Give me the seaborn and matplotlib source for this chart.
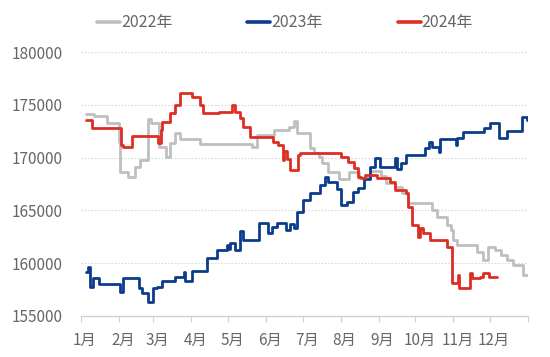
import matplotlib
matplotlib.use("Agg")
import matplotlib.pyplot as plt
import matplotlib.transforms as mtransforms
from matplotlib.lines import Line2D
import seaborn as sns
import pandas as pd

# ---- data (day of year, Jan 1 = 0) ----
days_2022 = [4, 11, 21, 31, 32, 38, 44, 48, 55, 57, 64, 69, 73, 77, 81, 97, 140, 144, 158, 170, 174, 176,
             187, 190, 194, 197, 202, 211, 219, 227, 236, 245, 249, 256, 262, 267, 287, 291, 299, 302, 304,
             307, 323, 328, 332, 338, 343, 348, 353, 361, 365]
vals_2022 = [174100, 173950, 173260, 171500, 168670, 168200, 169150, 169780, 173640, 173260, 171000, 170100,
             171370, 172370, 171750, 171300, 171040, 172150, 172630, 172940, 173510, 172340,
             170890, 170440, 170090, 169500, 168600, 168000, 168600, 168100, 168700, 168300, 167600, 167200,
             166600, 165700, 165040, 164400, 163610, 163140, 162190,
             161720, 161000, 160300, 161550, 161240, 160770, 160300, 159820, 158860, 158860]

days_2023 = [4, 6, 7, 10, 15, 32, 34, 47, 50, 55, 59, 62, 66, 77, 84, 85, 91, 103, 111, 119, 121, 122, 126,
             130, 132, 145, 153, 156, 160, 167, 171, 174, 176, 181, 187, 195, 199, 202, 209, 212, 217, 222,
             226, 231, 236, 240, 244, 256, 258, 261, 265, 281, 284, 287, 292, 293, 306, 307, 312, 329, 334,
             341, 348, 360, 364]
vals_2023 = [159180, 159600, 157760, 158560, 158010, 157290, 158560, 157610, 157130, 156340, 157610, 157760,
             158300, 158710, 159180, 158300, 159280, 160450, 161240, 161720, 161300, 161880, 161240,
             163070, 162190, 163830, 162850, 163450, 163770, 163140, 163700, 163300, 164880, 165990, 166620,
             167410, 168200, 167720, 167000, 165510, 165820, 166770,
             167100, 168000, 169150, 170000, 169090, 170000, 168900, 169470, 170260, 170890, 171520, 171040,
             170570, 171770, 171200, 171840, 172470, 172850, 173260,
             171840, 172560, 173830, 173580]

days_2024 = [4, 9, 33, 34, 42, 63, 65, 66, 73, 77, 81, 91, 97, 100, 113, 123, 126, 130, 132, 138, 157, 161,
             165, 166, 168, 171, 177, 179, 212, 218, 223, 226, 229, 232, 242, 252, 256, 265, 267, 270, 275,
             277, 279, 285, 299, 303, 308, 309, 318, 319, 326, 328, 333, 340]
vals_2024 = [173570, 172790, 171200, 171040, 172060, 171370, 172630, 173420, 174210, 175000, 176150, 175790,
             175000, 174210, 174300, 175000, 174370, 173740, 172940, 171930, 171520, 171200,
             169790, 170600, 169900, 168830, 170260, 170470, 170100, 169620, 169000, 168200, 168070, 168360,
             168040, 167720, 166930, 166600, 165350, 163610, 162500,
             163330, 162850, 162190, 161550, 158100, 158860, 157610, 159050, 158580, 158700, 159030, 158710,
             158710]

series_names = ["2022年", "2023年", "2024年"]
month_starts = [0, 31, 59, 90, 120, 151, 181, 212, 243, 273, 304, 334, 365]
month_labels = ["1月", "2月", "3月", "4月", "5月", "6月", "7月", "8月", "9月", "10月", "11月", "12月"]
y_ticks = [155000, 160000, 165000, 170000, 175000, 180000]

colors = {"2022年": "#BFBFBF", "2023年": "#0B3C8C", "2024年": "#DD2E23"}

frames = []
for name, d, v in zip(series_names, [days_2022, days_2023, days_2024], [vals_2022, vals_2023, vals_2024]):
    frames.append(pd.DataFrame({"day": d, "price": v, "year": name}))
df = pd.concat(frames, ignore_index=True)

sns.set_theme(style="white")
plt.rcParams["font.family"] = ["Noto Sans CJK SC", "DejaVu Sans"]

fig = plt.figure(figsize=(5.5, 3.57), dpi=100)
ax = fig.add_axes([81 / 550, 1 - 315.7 / 357, (528 - 81) / 550, (315.7 - 52.3) / 357])

sns.lineplot(data=df, x="day", y="price", hue="year", palette=colors, hue_order=series_names,
             drawstyle="steps-post", estimator=None, linewidth=2.0, legend=False, ax=ax)

ax.set_xlim(0, 365)
ax.set_ylim(155000, 180000)
ax.set_xlabel("")
ax.set_ylabel("")

txt_color = "#666666"
ax.set_yticks(y_ticks)
ax.set_yticklabels([str(t) for t in y_ticks])
ax.set_xticks(month_starts)
ax.set_xticklabels(month_labels + [""])
ax.tick_params(axis="y", length=0, pad=13, labelsize=11, labelcolor=txt_color)
ax.tick_params(axis="x", length=4, width=0.8, color="#D0D0D0", direction="out", pad=8,
               labelsize=11, labelcolor=txt_color, bottom=True)
offset = mtransforms.ScaledTranslation(4 / 100, 0, fig.dpi_scale_trans)
for lab in ax.get_xticklabels():
    lab.set_transform(lab.get_transform() + offset)

for s in ["left", "right", "top"]:
    ax.spines[s].set_visible(False)
ax.spines["bottom"].set_color("#D0D0D0")
ax.spines["bottom"].set_linewidth(1.0)

for t in y_ticks[1:]:
    ax.axhline(t, color="#D9D9D9", linestyle=(0, (1.5, 1.5)), linewidth=0.8, zorder=0)

handles = [Line2D([0], [0], color=colors[n], linewidth=2.6) for n in series_names]
leg = fig.legend(handles, series_names, loc="center", bbox_to_anchor=(285 / 550, 1 - 23 / 357),
                 ncol=3, frameon=False, handlelength=1.45, handletextpad=0.05, columnspacing=4.7,
                 fontsize=11.5)
for t in leg.get_texts():
    t.set_color(txt_color)

fig.savefig("out.png", dpi=100)
